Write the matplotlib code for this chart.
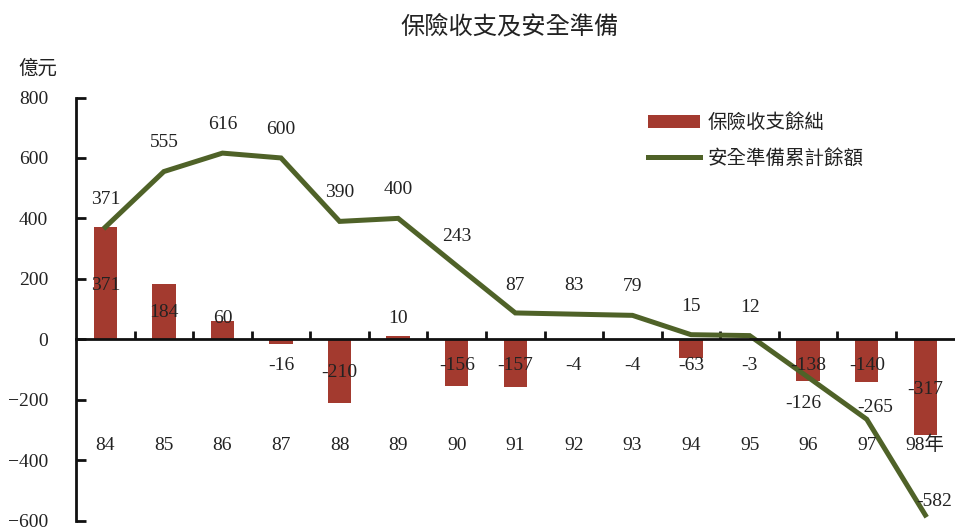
#!/usr/bin/env python3
"""Insurance income/expenditure balance and accumulated reserve, 84-98."""

import matplotlib

matplotlib.use("Agg")
import matplotlib.pyplot as plt
import numpy as np
from matplotlib.lines import Line2D
from matplotlib.patches import Patch

plt.rcParams["font.family"] = ["Liberation Serif", "Noto Sans CJK TC"]

YEARS = ["84", "85", "86", "87", "88", "89", "90", "91", "92", "93", "94", "95", "96", "97", "98年"]
BALANCE = [371, 184, 60, -16, -210, 10, -156, -157, -4, -4, -63, -3, -138, -140, -317]
RESERVE = [371, 555, 616, 600, 390, 400, 243, 87, 83, 79, 15, 12, -126, -265, -582]

# where the value labels sit, as in the source chart
BAR_LABEL_Y = [179, 87, 68, -86, -111, 68, -86, -86, -86, -86, -86, -86, -86, -86, -167]
LINE_LABEL_Y = [464, 650, 711, 695, 486, 496, 339, 179, 177, 173, 107, 105, -213, -226, -536]
LINE_LABEL_DX = [0, 0, 0, 0, 0, 0, 0, 0, 0, 0, 0, 0, -0.08, 0.14, 0.15]
CAT_LABEL_Y = -351

BAR_COLOR = "#A33A2F"
LINE_COLOR = "#4F6228"
TEXT_COLOR = "#222222"
FS = 14


def main() -> None:
    fig = plt.figure(figsize=(9.55, 5.28), dpi=100)
    ax = fig.add_axes([0.0796, 0.0142, 0.920, 0.8011])

    x = np.arange(len(YEARS))
    ax.bar(x, BALANCE, width=0.4, color=BAR_COLOR, zorder=2)
    ax.plot(x, RESERVE, color=LINE_COLOR, linewidth=3.6, zorder=3,
            solid_joinstyle="miter")

    for xi, ly in zip(x, BAR_LABEL_Y):
        ax.text(xi, ly, str(BALANCE[xi]), ha="center", va="center",
                fontsize=FS, color=TEXT_COLOR, zorder=4)
    for xi, ly, dx in zip(x, LINE_LABEL_Y, LINE_LABEL_DX):
        ax.text(xi + dx, ly, str(RESERVE[xi]), ha="center", va="center",
                fontsize=FS, color=TEXT_COLOR, zorder=4)
    for xi, lab in zip(x, YEARS):
        ax.text(xi, CAT_LABEL_Y, lab, ha="center", va="center",
                fontsize=FS, color=TEXT_COLOR)

    ax.set_xlim(-0.5, len(YEARS) - 0.5)
    ax.set_ylim(-600, 800)
    ax.set_yticks(np.arange(-600, 801, 200))
    ax.set_xticks(np.arange(0.5, len(YEARS) - 1, 1.0))
    ax.set_xticklabels([])

    for side in ("top", "right"):
        ax.spines[side].set_visible(False)
    ax.spines["bottom"].set_position(("data", 0))
    ax.spines["left"].set_linewidth(2.0)
    ax.spines["bottom"].set_linewidth(2.0)
    ax.spines["left"].set_color("#111111")
    ax.spines["bottom"].set_color("#111111")
    ax.spines["bottom"].set_zorder(5)

    ax.tick_params(axis="y", direction="in", length=7, width=2, pad=20,
                   labelsize=FS, labelcolor=TEXT_COLOR, color="#111111")
    ax.tick_params(axis="x", direction="in", length=6, width=2, color="#111111")

    fig.text(0.534, 0.949, "保險收支及安全準備", ha="center", va="center",
             fontsize=17.5, color=TEXT_COLOR)
    fig.text(0.040, 0.871, "億元", ha="center", va="center",
             fontsize=14, color=TEXT_COLOR)

    handles = [
        Patch(facecolor=BAR_COLOR, edgecolor="none"),
        Line2D([0], [0], color=LINE_COLOR, linewidth=3.6),
    ]
    labels = ["保險收支餘絀", "安全準備累計餘額"]
    leg = fig.legend(handles, labels, loc="upper left",
                     bbox_to_anchor=(0.670, 0.800), frameon=False,
                     fontsize=14, handlelength=2.7, handleheight=0.6,
                     handletextpad=0.4, labelspacing=0.85, borderaxespad=0)
    for t in leg.get_texts():
        t.set_color(TEXT_COLOR)

    fig.savefig("out.png", dpi=100)
    plt.close(fig)


if __name__ == "__main__":
    main()
